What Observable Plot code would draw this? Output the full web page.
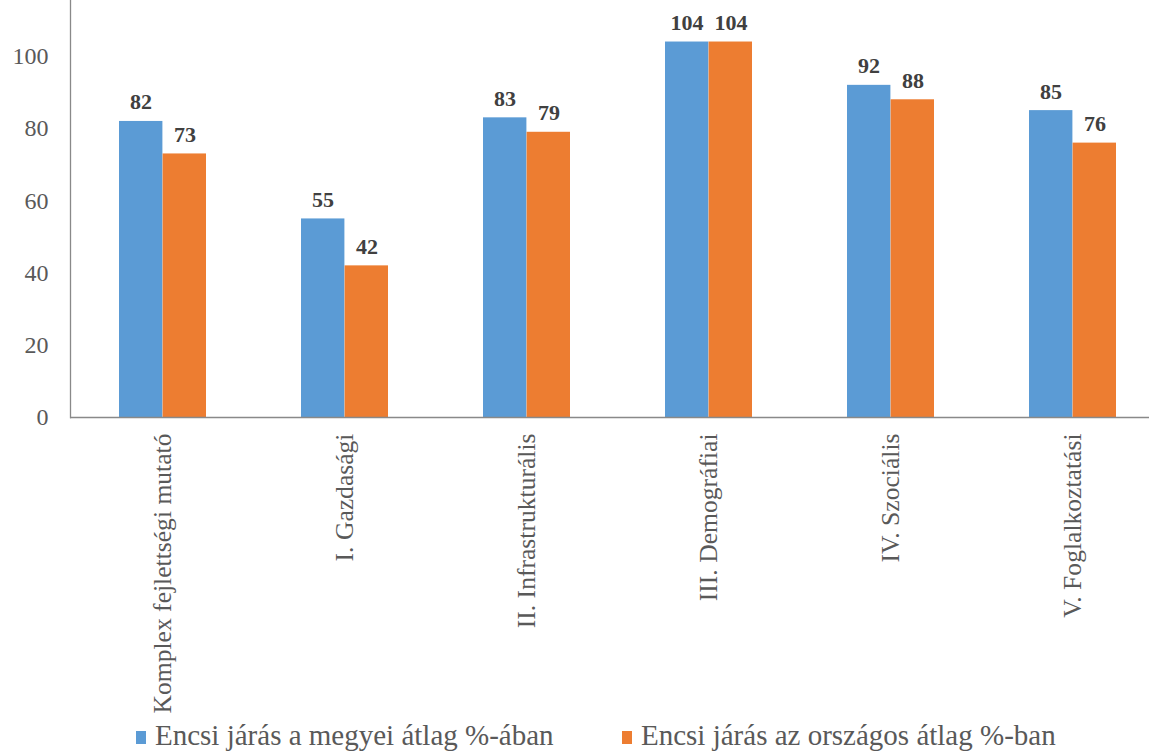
<!DOCTYPE html>
<html>
<head>
<meta charset="utf-8">
<script src="https://cdn.jsdelivr.net/npm/d3@7"></script>
<script src="https://cdn.jsdelivr.net/npm/@observablehq/plot@0.6"></script>
<style>
  html, body { margin: 0; padding: 0; background: #fff; }
  #chart { width: 1149px; }
  .legend { position: relative; height: 31px; font-family: "Liberation Serif", "Times New Roman", serif; font-size: 29px; color: #595959; }
  .legend .item { position: absolute; top: -1px; white-space: nowrap; line-height: 32px; }
  .legend .sw { display: inline-block; width: 10px; height: 13px; margin-right: 9px; vertical-align: 1px; }
</style>
</head>
<body>
<div id="chart"></div>
<script>
const categories = ["Komplex fejlettségi mutató", "I. Gazdasági", "II. Infrastrukturális", "III. Demográfiai", "IV. Szociális", "V. Foglalkoztatási"];
const seriesNames = ["Encsi járás a megyei átlag %-ában", "Encsi járás az országos átlag %-ban"];
const megyei = [82, 55, 83, 104, 92, 85];
const orszagos = [73, 42, 79, 104, 88, 76];
const colors = ["#5B9BD5", "#ED7D31"];
const yTicks = [0, 20, 40, 60, 80, 100];

const dataA = categories.map((c, i) => ({category: c, value: megyei[i]}));
const dataB = categories.map((c, i) => ({category: c, value: orszagos[i]}));

const font = '"Liberation Serif", "Times New Roman", serif';
const half = 43.6;

const chart = Plot.plot({
  width: 1149,
  height: 720,
  marginLeft: 70,
  marginRight: 0,
  marginTop: 0,
  marginBottom: 303,
  style: {fontFamily: font, background: "#fff"},
  x: {domain: categories, paddingInner: 0.52, paddingOuter: 0.218, align: 0.605, label: null},
  y: {domain: [0, 115.5], label: null},
  marks: [
    Plot.barY(dataA, {x: "category", y: "value", fill: colors[0], insetRight: half}),
    Plot.barY(dataB, {x: "category", y: "value", fill: colors[1], insetLeft: half}),
    Plot.text(dataA, {x: "category", y: "value", text: d => String(d.value), dx: -22, dy: -12, lineAnchor: "bottom", fontSize: 22, fontWeight: "bold", fontFamily: font, fill: "#404040"}),
    Plot.text(dataB, {x: "category", y: "value", text: d => String(d.value), dx: 22, dy: -12, lineAnchor: "bottom", fontSize: 22, fontWeight: "bold", fontFamily: font, fill: "#404040"}),
    Plot.axisY({ticks: yTicks, tickSize: 0, tickPadding: 22, fontSize: 24, fontFamily: font, fill: "#595959", label: null}),
    Plot.axisX({tickSize: 0, tickPadding: 16, tickRotate: -90, fontSize: 25.6, fontFamily: font, fill: "#595959", label: null}),
    Plot.ruleY([0], {stroke: "#898989", strokeWidth: 1.3}),
    Plot.frame({anchor: "left", stroke: "#898989", strokeWidth: 1.3})
  ]
});
document.getElementById("chart").appendChild(chart);

const legend = document.createElement("div");
legend.className = "legend";
const lefts = [136, 622];
seriesNames.forEach((name, i) => {
  const item = document.createElement("div");
  item.className = "item";
  item.style.left = lefts[i] + "px";
  const sw = document.createElement("span");
  sw.className = "sw";
  sw.style.background = colors[i];
  item.appendChild(sw);
  item.appendChild(document.createTextNode(name));
  legend.appendChild(item);
});
document.getElementById("chart").appendChild(legend);
</script>
</body>
</html>
